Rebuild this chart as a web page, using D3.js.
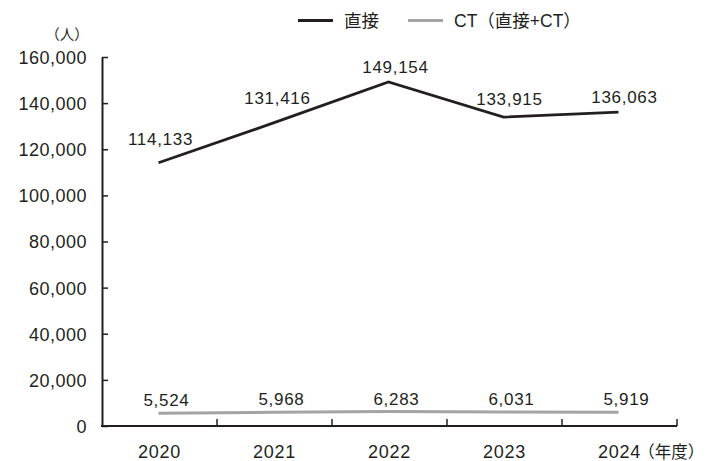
<!DOCTYPE html>
<html>
<head>
<meta charset="utf-8">
<script src="https://cdn.jsdelivr.net/npm/d3@7"></script>
<style>
  html, body { margin: 0; padding: 0; background: #ffffff; }
  svg { display: block; }
  text { font-family: "Liberation Sans", Arial, "Noto Sans CJK JP", sans-serif; fill: #231f20; }
</style>
</head>
<body>
<svg id="chart" width="710" height="461"></svg>
<script>
// Fiscal years and visitor counts
const years = ["2020", "2021", "2022", "2023", "2024"];
const directValues = [114133, 131416, 149154, 133915, 136063];
const ctValues = [5524, 5968, 6283, 6031, 5919];
const yTickValues = [0, 20000, 40000, 60000, 80000, 100000, 120000, 140000, 160000];
const seriesNames = ["直接", "CT（直接+CT）"];

const ink = "#231f20";
const grey = "#a3a3a3";

const svg = d3.select("#chart");
const plotLeft = 102, plotRight = 677, plotTop = 57, plotBottom = 426;

const x = d3.scaleBand().domain(years).range([plotLeft, plotRight]).padding(0);
const y = d3.scaleLinear().domain([0, 160000]).range([plotBottom, plotTop]);
const cx = d => x(d) + x.bandwidth() / 2 - 1;

// Y axis: ticks pointing into the plot
const yAxis = d3.axisLeft(y)
  .tickValues(yTickValues)
  .tickFormat(d3.format(","))
  .tickSizeInner(-6)
  .tickSizeOuter(0)
  .tickPadding(15);

const gy = svg.append("g").attr("transform", `translate(${plotLeft},0)`).call(yAxis);
gy.select(".domain").attr("stroke", ink).attr("stroke-width", 2);
gy.selectAll(".tick line").attr("stroke", ink).attr("stroke-width", 1.5);
gy.selectAll(".tick text")
  .attr("fill", ink)
  .style("font-size", "18px")
  .style("letter-spacing", "0.5px")
  .attr("dy", "0.36em");

// X axis: labels centred in each year band, ticks on band boundaries
const xAxis = d3.axisBottom(x).tickSize(0).tickPadding(19);
const gx = svg.append("g").attr("transform", `translate(0,${plotBottom})`).call(xAxis);
gx.select(".domain").remove();
gx.selectAll(".tick text")
  .attr("fill", ink)
  .style("font-size", "18px")
  .style("letter-spacing", "0.8px");

svg.append("line")
  .attr("x1", plotLeft - 1).attr("x2", plotRight)
  .attr("y1", plotBottom).attr("y2", plotBottom)
  .attr("stroke", ink).attr("stroke-width", 2);

const boundaries = years.slice(1).map(d => x(d)).concat([plotRight]);
svg.append("g").selectAll("line")
  .data(boundaries)
  .join("line")
  .attr("x1", d => d).attr("x2", d => d)
  .attr("y1", plotBottom).attr("y2", plotBottom - 7)
  .attr("stroke", ink).attr("stroke-width", 1.5);

// Unit suffix after the last year label
const lastTick = gx.selectAll(".tick text").filter(d => d === years[years.length - 1]);
const lastWidth = lastTick.node().getComputedTextLength();
svg.append("text")
  .attr("x", cx(years[years.length - 1]) + lastWidth / 2 - 2)
  .attr("y", plotBottom + 31.5)
  .style("font-size", "16.5px")
  .style("font-family", "'Noto Sans CJK JP', sans-serif")
  .text("（年度）");

// Unit label of the y axis
svg.append("text")
  .attr("x", 67).attr("y", 40)
  .attr("text-anchor", "middle")
  .style("font-size", "14.5px")
  .style("font-family", "'Noto Sans CJK JP', sans-serif")
  .text("（人）");

// Lines
const line = (vals) => d3.line()
  .x((d, i) => cx(years[i]))
  .y(d => y(d))(vals);

svg.append("path")
  .attr("d", line(ctValues))
  .attr("fill", "none")
  .attr("stroke", grey)
  .attr("stroke-width", 3);

svg.append("path")
  .attr("d", line(directValues))
  .attr("fill", "none")
  .attr("stroke", ink)
  .attr("stroke-width", 2.8)
  .attr("stroke-linejoin", "miter");

// Value labels (per-label placement so they clear the line)
const directShift = [[2, -18], [4, -19], [7, -9], [6, -12], [6, -9]];
svg.append("g").selectAll("text")
  .data(directValues)
  .join("text")
  .attr("x", (d, i) => cx(years[i]) + directShift[i][0])
  .attr("y", (d, i) => y(d) + directShift[i][1])
  .attr("text-anchor", "middle")
  .style("font-size", "17px")
  .style("letter-spacing", "0.7px")
  .text(d => d3.format(",")(d));

svg.append("g").selectAll("text")
  .data(ctValues)
  .join("text")
  .attr("x", (d, i) => cx(years[i]) + 8)
  .attr("y", d => y(d) - 7)
  .attr("text-anchor", "middle")
  .style("font-size", "17px")
  .style("letter-spacing", "0.7px")
  .text(d => d3.format(",")(d));

// Legend
const legend = svg.append("g");
const legendItems = [
  { name: seriesNames[0], color: ink, x0: 298, width: 2.8 },
  { name: seriesNames[1], color: grey, x0: 408, width: 3 }
];
legendItems.forEach(it => {
  legend.append("line")
    .attr("x1", it.x0).attr("x2", it.x0 + 35)
    .attr("y1", 20.5).attr("y2", 20.5)
    .attr("stroke", it.color).attr("stroke-width", it.width);
  legend.append("text")
    .attr("x", it.x0 + 46).attr("y", 27)
    .style("font-size", "17.5px")
    .text(it.name);
});
</script>
</body>
</html>
